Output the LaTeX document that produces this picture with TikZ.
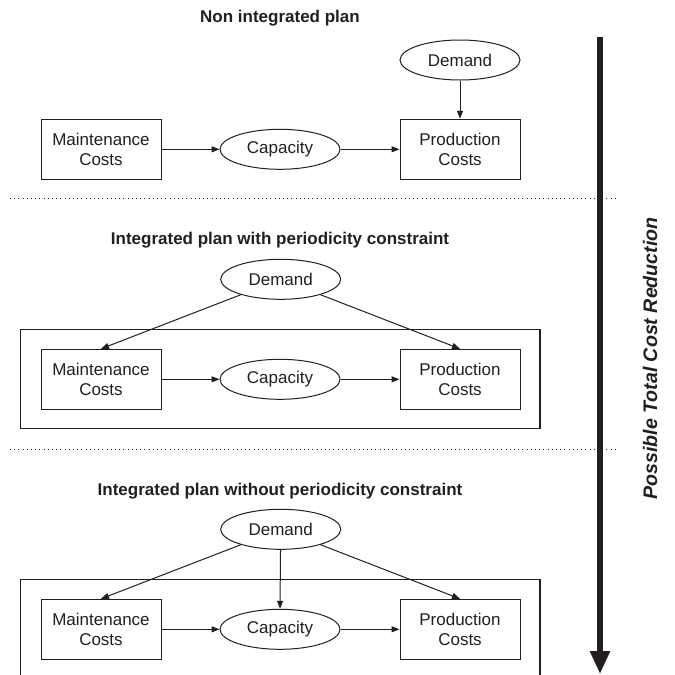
\documentclass[tikz,border=0pt]{standalone}
\usepackage{fontspec}
\setmainfont{Liberation Sans}
\usetikzlibrary{arrows.meta,shapes.geometric}
\definecolor{ink}{RGB}{35,31,32}
\tikzset{
  boxnode/.style={draw=ink,line width=1pt,rectangle,minimum width=120pt,minimum height=60pt,inner sep=0pt,align=center,font=\fontsize{17}{20}\selectfont,text=ink},
  ellnode/.style={draw=ink,line width=1pt,ellipse,minimum width=120pt,minimum height=40pt,inner sep=0pt,align=center,font=\fontsize{17}{20}\selectfont,text=ink},
  titlenode/.style={font=\fontsize{17}{20}\selectfont\bfseries,text=ink},
  conn/.style={draw=ink,line width=1pt,-{Triangle[length=8pt,width=6pt]}},
  frame/.style={draw=ink,line width=1.2pt},
  sep/.style={draw=ink,line width=0.9pt,dash pattern=on 1pt off 3.2pt},
  bigarrow/.style={draw=ink,line width=5.5pt,-{Triangle[length=23pt,width=19pt]}}
}
\begin{document}
\begin{tikzpicture}[x=1pt,y=-1pt]
\useasboundingbox[fill=white] (0,0) rectangle (675,675);

% separators
\coordinate (s1a) at (10,198.5);
\coordinate (s1b) at (617,198.5);
\coordinate (s2a) at (10,449);
\coordinate (s2b) at (617,449);
\draw[sep] (s1a) -- (s1b);
\draw[sep] (s2a) -- (s2b);

% big arrow
\coordinate (atop) at (600,37);
\coordinate (abot) at (600,674);
\draw[bigarrow] (atop) -- (abot);
\node[rotate=90,anchor=base,font=\fontsize{19.6}{22}\selectfont\bfseries\itshape,text=ink] (lab) at (657,358.5) {Possible Total Cost Reduction};

% ---- section 1
\node[titlenode] (t1) at (280,18) {Non integrated plan};
\node[ellnode] (d1) at (460,60) {Demand};
\node[boxnode] (m1) at (101,149.3) {Maintenance\\Costs};
\node[ellnode] (c1) at (280,149.3) {Capacity};
\node[boxnode] (p1) at (460,149.3) {Production\\Costs};
\draw[conn] (d1) -- (p1);
\draw[conn] (m1) -- (c1);
\draw[conn] (c1) -- (p1);

% ---- section 2
\node[titlenode] (t2) at (280,240) {Integrated plan with periodicity constraint};
\draw[frame] (20.5,329.3) rectangle (540,428.8);
\node[ellnode] (d2) at (280.7,279.3) {Demand};
\node[boxnode] (m2) at (101,379.3) {Maintenance\\Costs};
\node[ellnode] (c2) at (280,379.3) {Capacity};
\node[boxnode] (p2) at (460,379.3) {Production\\Costs};
\draw[conn] (d2) -- (m2.north);
\draw[conn] (d2) -- (p2.north);
\draw[conn] (m2) -- (c2);
\draw[conn] (c2) -- (p2);

% ---- section 3
\node[titlenode] (t3) at (280,491) {Integrated plan without periodicity constraint};
\draw[frame] (20.5,680) -- (20.5,579.3) -- (540,579.3) -- (540,680);
\node[ellnode] (d3) at (280.7,529.3) {Demand};
\node[boxnode] (m3) at (101,629.3) {Maintenance\\Costs};
\node[ellnode] (c3) at (280,629.3) {Capacity};
\node[boxnode] (p3) at (460,629.3) {Production\\Costs};
\draw[conn] (d3) -- (m3.north);
\draw[conn] (d3) -- (c3.north);
\draw[conn] (d3) -- (p3.north);
\draw[conn] (m3) -- (c3);
\draw[conn] (c3) -- (p3);
\end{tikzpicture}
\end{document}
